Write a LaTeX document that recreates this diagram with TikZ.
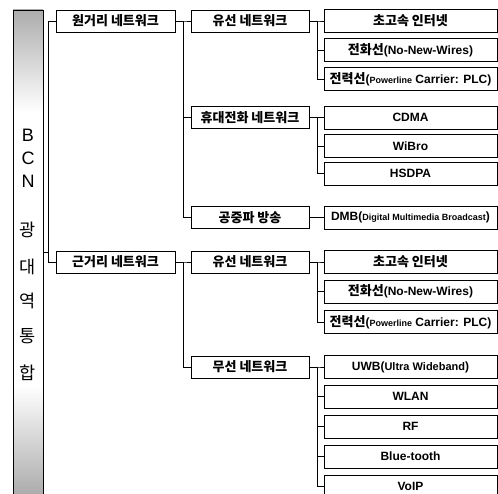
\documentclass[tikz,border=0pt]{standalone}
\usepackage{fontspec}
\setmainfont{Liberation Sans}
\newfontfamily\kor{Noto Sans CJK KR}
\newcommand\krtext[1]{{\kor\fontsize{13}{14}\selectfont #1}}
\begin{document}
\begin{tikzpicture}[x=1pt,y=-1pt,
  box/.style={draw, line width=0.9pt, inner sep=0pt, font=\bfseries\fontsize{12}{13}\selectfont},
  lone/.style={box, minimum width=119pt, minimum height=22pt},
  ltwo/.style={box, minimum width=118pt, minimum height=22pt},
  lthree/.style={box, minimum width=173pt, minimum height=23pt},
  barbox/.style={draw, line width=0.9pt, minimum width=30pt, minimum height=484pt, inner sep=0pt},
  barlat/.style={inner sep=0pt, font=\fontsize{18}{18}\selectfont},
  barkor/.style={inner sep=0pt, font=\kor\fontsize{17.5}{18}\selectfont},
  conn/.style={line width=0.8pt}]
\useasboundingbox (0,0) rectangle (498,494);
% bar shading
\shade[top color=gray!65, bottom color=white] (13,10) rectangle (43,112);
\shade[top color=white, bottom color=gray!65] (13,385) rectangle (43,494);
\node[barbox] (bar) at (28,252) {};
\node[barlat] (b1) at (28,135) {B};
\node[barlat] (b2) at (28,158.5) {C};
\node[barlat] (b3) at (28,181.5) {N};
\node[barkor] (b4) at (28,230) {광};
\node[barkor] (b5) at (28,266.5) {대};
\node[barkor] (b6) at (28,301) {역};
\node[barkor] (b7) at (28,336.5) {통};
\node[barkor] (b8) at (28,373) {합};
% level 1
\node[lone] (far) at (115.5,21) {\krtext{원거리 네트워크}};
\node[lone] (near) at (115.5,262) {\krtext{근거리 네트워크}};
% level 2
\node[ltwo] (wiredA) at (250,21) {\krtext{유선 네트워크}};
\node[ltwo] (mobile) at (250,117.5) {\krtext{휴대전화 네트워크}};
\node[ltwo] (bcast) at (250,217.5) {\krtext{공중파 방송}};
\node[ltwo] (wiredB) at (250,262) {\krtext{유선 네트워크}};
\node[ltwo] (wless) at (250,367) {\krtext{무선 네트워크}};
% level 3
\node[lthree] (a1) at (410.5,21) {\krtext{초고속 인터넷}};
\node[lthree] (a2) at (410.5,50) {\krtext{전화선}(No-New-Wires)};
\node[lthree] (a3) at (410.5,79) {\krtext{전력선}({\fontsize{9}{10}\selectfont Powerline} Carrier: PLC)};
\node[lthree] (m1) at (410.5,117.5) {CDMA};
\node[lthree] (m2) at (410.5,146) {WiBro};
\node[lthree] (m3) at (410.5,173.5) {HSDPA};
\node[lthree] (d1) at (410.5,217.5) {DMB({\fontsize{9}{10}\selectfont Digital Multimedia Broadcast})};
\node[lthree] (c1) at (410.5,262) {\krtext{초고속 인터넷}};
\node[lthree] (c2) at (410.5,291.5) {\krtext{전화선}(No-New-Wires)};
\node[lthree] (c3) at (410.5,322) {\krtext{전력선}({\fontsize{9}{10}\selectfont Powerline} Carrier: PLC)};
\node[lthree] (w1) at (410.5,367) {UWB({\fontsize{11}{12}\selectfont Ultra Wideband})};
\node[lthree] (w2) at (410.5,396.5) {WLAN};
\node[lthree] (w3) at (410.5,426.5) {RF};
\node[lthree] (w4) at (410.5,456.5) {Blue-tooth};
\node[lthree] (w5) at (410.5,486.5) {VoIP};
% connectors
\foreach \c in {far,near} \draw[conn] (bar.east) -- ++(5,0) |- (\c.west);
\foreach \c in {wiredA,mobile,bcast} \draw[conn] (far.east) -- ++(8,0) |- (\c.west);
\foreach \c in {wiredB,wless} \draw[conn] (near.east) -- ++(8,0) |- (\c.west);
\foreach \c in {a1,a2,a3} \draw[conn] (wiredA.east) -- ++(8,0) |- (\c.west);
\foreach \c in {m1,m2,m3} \draw[conn] (mobile.east) -- ++(8,0) |- (\c.west);
\foreach \c in {d1} \draw[conn] (bcast.east) -- ++(8,0) |- (\c.west);
\foreach \c in {c1,c2,c3} \draw[conn] (wiredB.east) -- ++(8,0) |- (\c.west);
\foreach \c in {w1,w2,w3,w4,w5} \draw[conn] (wless.east) -- ++(8,0) |- (\c.west);
\end{tikzpicture}
\end{document}
